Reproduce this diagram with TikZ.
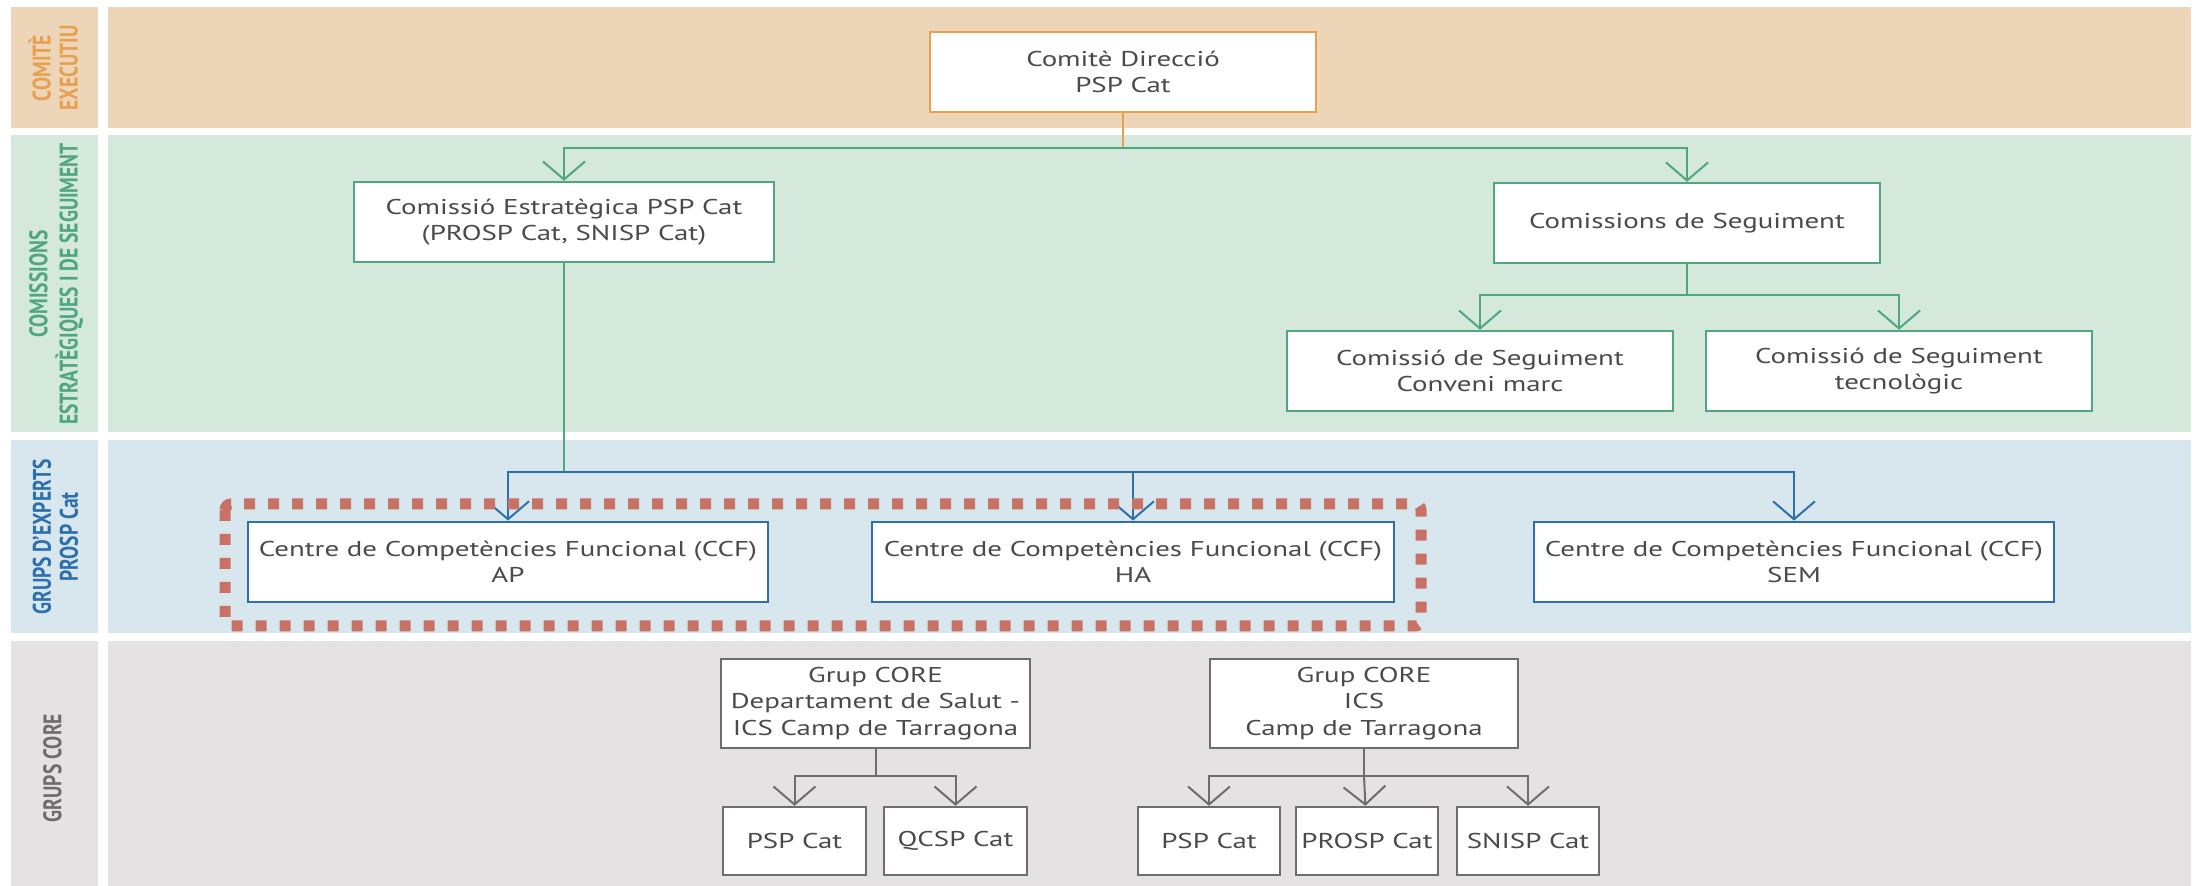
\documentclass[tikz,border=0pt]{standalone}
\usepackage{fontspec}
\setmainfont{PT Sans}[FakeStretch=1.35]
\newfontfamily\etiqfont{PT Sans}
\usetikzlibrary{arrows.meta}

% colori delle fasce e delle linee
\definecolor{fonsTar}{HTML}{EDD5B7}
\definecolor{fonsVerd}{HTML}{D4E8DB}
\definecolor{fonsBlau}{HTML}{D8E6ED}
\definecolor{fonsGris}{HTML}{E4E2E3}
\definecolor{linTar}{HTML}{E8A050}
\definecolor{linVerd}{HTML}{4FA67F}
\definecolor{linBlau}{HTML}{2E6FAE}
\definecolor{linGris}{HTML}{6D6D6D}
\definecolor{txtGris}{HTML}{4A4A4C}
\definecolor{puntVerm}{HTML}{C87266}

\newcommand{\etiq}[1]{\scalebox{1}[1.3]{\etiqfont\bfseries\fontsize{9.8}{10.4}\selectfont
  \begin{tabular}{@{}c@{}}#1\end{tabular}}}

\begin{document}
\begin{tikzpicture}[x=0.5pt, y=-0.5pt, line join=miter,
    >={Straight Barb[length=9pt,width=21pt]},
    caixa/.style={draw, fill=white, line width=1.2pt, text=txtGris, inner sep=0pt,
      align=center, font=\fontsize{10.7}{13}\selectfont, minimum height=40pt},
    caixaTar/.style={caixa, draw=linTar, minimum width=193pt},
    caixaVerd/.style={caixa, draw=linVerd, minimum width=193pt},
    caixaBlau/.style={caixa, draw=linBlau, line width=1.4pt, minimum width=260pt},
    caixaGris/.style={caixa, draw=linGris, font=\fontsize{10.7}{13.4}\selectfont},
    fletxa/.style={line width=1pt, ->}]
  \useasboundingbox (0,0) rectangle (2196,886);

  % --- Fasce ---
  \fill[fonsTar]  (11,7)   rectangle (98,128);  \fill[fonsTar]  (108,7)   rectangle (2191,128);
  \fill[fonsVerd] (11,135) rectangle (98,432);  \fill[fonsVerd] (108,135) rectangle (2191,432);
  \fill[fonsBlau] (11,440) rectangle (98,633);  \fill[fonsBlau] (108,440) rectangle (2191,633);
  \fill[fonsGris] (11,641) rectangle (98,886);  \fill[fonsGris] (108,641) rectangle (2191,886);

  % --- Etichette delle fasce ---
  \node[rotate=90, text=linTar]  (lExe)  at (57,68)  {\etiq{COMITÈ\\EXECUTIU}};
  \node[rotate=90, text=linVerd] (lCom)  at (57,284) {\etiq{COMISSIONS\\ESTRATÈGIQUES I DE SEGUIMENT}};
  \node[rotate=90, text=linBlau] (lExp)  at (59,537) {\etiq{GRUPS D’EXPERTS\\PROSP Cat}};
  \node[rotate=90, text=linGris] (lCore) at (56,768) {\etiq{GRUPS CORE}};

  % --- Caselle ---
  \node[caixaTar]  (dir)    at (1123,72)  {Comitè Direcció\\PSP Cat};
  \node[caixaVerd, minimum width=210pt] (estr) at (564,222) {Comissió Estratègica PSP Cat\\(PROSP Cat, SNISP Cat)};
  \node[caixaVerd] (seg)    at (1687,223) {Comissions de Seguiment};
  \node[caixaVerd] (segCM)  at (1480,371) {Comissió de Seguiment\\Conveni marc};
  \node[caixaVerd] (segTec) at (1899,371) {Comissió de Seguiment\\tecnològic};
  \node[caixaBlau] (ccfAP)  at (508,562)  {Centre de Competències Funcional (CCF)\\AP};
  \node[caixaBlau, minimum width=261pt] (ccfHA) at (1133,562) {Centre de Competències Funcional (CCF)\\HA};
  \node[caixaBlau] (ccfSEM) at (1794,562) {Centre de Competències Funcional (CCF)\\SEM};
  \node[caixaGris, minimum width=154.5pt, minimum height=44.5pt] (coreDep) at (875.5,703.5) {Grup CORE\\Departament de Salut -\\ICS Camp de Tarragona};
  \node[caixaGris, minimum width=154pt, minimum height=44.5pt] (coreICS) at (1364,703.5) {Grup CORE\\ICS\\Camp de Tarragona};
  \node[caixaGris, minimum width=71.5pt, minimum height=34pt] (psp1)  at (794.5,841) {PSP Cat};
  \node[caixaGris, minimum width=71.5pt, minimum height=34pt] (qcsp)  at (955.5,841) {QCSP Cat};
  \node[caixaGris, minimum width=71pt, minimum height=34pt]   (psp2)  at (1209,841)  {PSP Cat};
  \node[caixaGris, minimum width=71pt, minimum height=34pt]   (prosp) at (1367,841)  {PROSP Cat};
  \node[caixaGris, minimum width=71pt, minimum height=34pt]   (snisp) at (1528,841)  {SNISP Cat};

  % --- Punti di diramazione ---
  \coordinate (nDir)  at (1123,148);
  \coordinate (nSeg)  at (1687,295);
  \coordinate (nEstr) at (564,472);
  \coordinate (nDep)  at (875.5,776);
  \coordinate (nICS)  at (1364,776);

  % --- Collegamenti ---
  \draw[linTar, line width=1pt] (dir) -- (nDir);
  \draw[fletxa, linVerd] (nDir) -| (estr);
  \draw[fletxa, linVerd] (nDir) -| (seg);
  \draw[linVerd, line width=1pt] (seg) -- (nSeg);
  \draw[fletxa, linVerd] (nSeg) -| (segCM);
  \draw[fletxa, linVerd] (nSeg) -| (segTec);
  \draw[linVerd, line width=1pt] (estr) -- (nEstr);
  \draw[fletxa, linBlau] (nEstr) -| (ccfAP);
  \draw[fletxa, linBlau] (nEstr) -| (ccfHA);
  \draw[fletxa, linBlau] (nEstr) -| (ccfSEM);
  \draw[linGris, line width=1pt] (coreDep) -- (nDep);
  \draw[fletxa, linGris] (nDep) -| (psp1);
  \draw[fletxa, linGris] (nDep) -| (qcsp);
  \draw[linGris, line width=1pt] (coreICS) -- (nICS);
  \draw[fletxa, linGris] (nICS) -| (psp2);
  \draw[fletxa, linGris] (nICS) -- (prosp);
  \draw[fletxa, linGris] (nICS) -| (snisp);

  % --- Riquadro tratteggiato ---
  \draw[puntVerm, line width=5.5pt, dash pattern=on 5.5pt off 6.5pt, rounded corners=3pt]
    (225,504) rectangle (1421,626);
\end{tikzpicture}
\end{document}
